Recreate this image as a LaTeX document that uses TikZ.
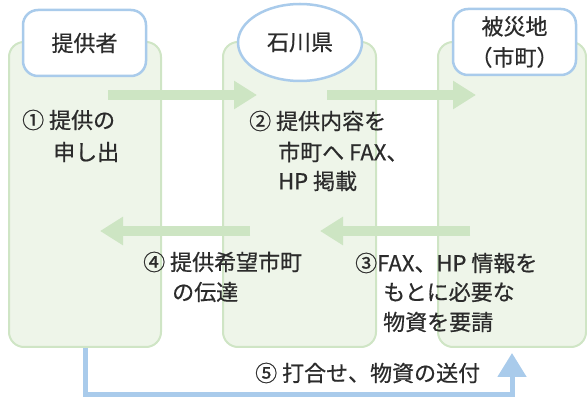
\documentclass[tikz,border=0pt]{standalone}
\usepackage{fontspec}
\newfontfamily\jp{Noto Sans CJK JP}[FakeBold=0.6]
\usetikzlibrary{arrows.meta,shapes.geometric}
\definecolor{colfill}{HTML}{EEF5E9}
\definecolor{colline}{HTML}{CFE5C5}
\definecolor{arrgreen}{HTML}{CDE5C3}
\definecolor{hblue}{HTML}{A9CBEB}
\definecolor{txt}{HTML}{2B2B2B}
\tikzset{
  column/.style={draw=colline, fill=colfill, line width=2pt, rounded corners=15pt, minimum width=#1, minimum height=305pt, inner sep=0pt},
  headbox/.style={draw=hblue, fill=white, line width=2.5pt, rounded corners=15pt, minimum width=123pt, minimum height=66pt, inner sep=0pt, font=\jp\fontsize{22}{31}\selectfont, text=txt, align=center},
  headell/.style={ellipse, draw=hblue, fill=white, line width=2.5pt, minimum width=124pt, minimum height=77pt, inner sep=0pt, font=\jp\fontsize{22}{31}\selectfont, text=txt},
  garrow/.style={draw=arrgreen, line width=10pt, -{Triangle[length=23pt,width=27pt]}},
  barrow/.style={draw=hblue, line width=5pt, -{Triangle[length=24pt,width=28pt]}},
  lbl/.style={anchor=west, inner sep=0pt, font=\jp\fontsize{22}{31}\selectfont, text=txt},
}
\begin{document}
\begin{tikzpicture}[x=1pt,y=-1pt]
\useasboundingbox (0,0) rectangle (587,403);
% columns
\node[column=152pt] (c1) at (85,194.5) {};
\node[column=153pt] (c2) at (299.5,194.5) {};
\node[column=148pt] (c3) at (512,194.5) {};
% connector coordinates
\coordinate (a1s) at (108,95);
\coordinate (a1e) at (257,95);
\coordinate (a2s) at (327,95);
\coordinate (a2e) at (476,95);
\coordinate (a3s) at (470,231);
\coordinate (a3e) at (320,231);
\coordinate (a4s) at (250,231);
\coordinate (a4e) at (100,231);
\coordinate (bcorner) at (85,395);
\coordinate (bturn) at (512,395);
\coordinate (btip) at (512,353);
% green arrows
\draw[garrow] (a1s) -- (a1e);
\draw[garrow] (a2s) -- (a2e);
\draw[garrow] (a3s) -- (a3e);
\draw[garrow] (a4s) -- (a4e);
% blue arrow
\draw[barrow] (c1.south) -- (bcorner) -- (bturn) -- (btip);
% headings
\node[headbox] (h1) at (84.5,43) {提供者};
\node[headell] (h2) at (300,42.5) {石川県};
\node[headbox] (h3) at (514.5,42) {被災地\\（市町）};
% labels
\node[lbl] (t1a) at (22,120) {① 提供の};
\node[lbl] (t1b) at (53,152) {申し出};
\node[lbl] (t2a) at (249,121) {② 提供内容を};
\node[lbl] (t2b) at (278,152) {市町へ FAX、};
\node[lbl] (t2c) at (278,181) {HP 掲載};
\node[lbl] (t4a) at (143,262) {④ 提供希望市町};
\node[lbl] (t4b) at (172,292) {の伝達};
\node[lbl] (t3a) at (355,263) {③FAX、HP 情報を};
\node[lbl] (t3b) at (383,292) {もとに必要な};
\node[lbl] (t3c) at (383,322) {物資を要請};
\node[lbl] (t5) at (255,373) {⑤ 打合せ、物資の送付};
\end{tikzpicture}
\end{document}
